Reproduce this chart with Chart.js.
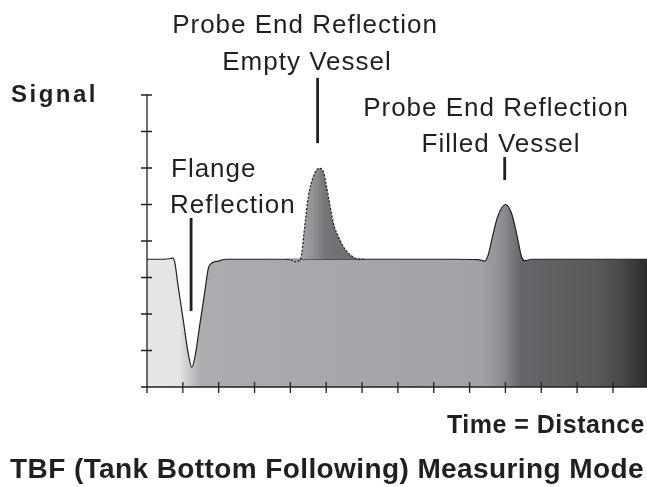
<!DOCTYPE html>
<html><head><meta charset="utf-8">
<script src="https://cdn.jsdelivr.net/npm/chart.js@4/dist/chart.umd.min.js"></script>
<style>html,body{margin:0;padding:0;background:#fff;overflow:hidden;}#wrap{width:647px;height:487px;position:relative;}</style>
</head><body><div id="wrap"><canvas id="c" width="647" height="487" style="width:647px;height:487px;"></canvas></div>
<script>
// ---- data ----
const signalX = [0, 0.5, 0.66, 0.72, 0.78, 0.87, 1.01, 1.15, 1.25, 1.34, 1.48, 1.62, 1.71, 1.80, 1.99, 2.2, 4.0, 6.0, 8.5, 9.24, 9.43, 9.52, 9.66, 9.80, 10.0, 10.17, 10.31, 10.45, 10.54, 10.73, 12.0, 13.95];
const signalY = [3.5, 3.5, 3.52, 3.53, 3.39, 2.75, 1.84, 0.92, 0.54, 0.83, 1.75, 2.66, 3.25, 3.39, 3.45, 3.5, 3.5, 3.5, 3.5, 3.49, 3.45, 3.62, 4.21, 4.71, 5.0, 4.76, 4.21, 3.57, 3.46, 3.5, 3.5, 3.5];
const emptyX = [3.9, 4.05, 4.13, 4.22, 4.29, 4.41, 4.50, 4.64, 4.80, 4.92, 5.01, 5.11, 5.20, 5.34, 5.48, 5.67, 5.85, 6.05];
const emptyY = [3.5, 3.47, 3.43, 3.45, 3.52, 4.48, 5.21, 5.76, 5.99, 5.90, 5.49, 4.94, 4.48, 4.12, 3.84, 3.62, 3.52, 3.5];
const xTicks = [0,1,2,3,4,5,6,7,8,9,10,11,12,13];
const yTicks = [0,1,2,3,4,5,6,7,8];
const baseline = 3.5;
const labels = {
  emptyTop: 'Probe End Reflection', emptyBottom: 'Empty Vessel',
  flangeTop: 'Flange', flangeBottom: 'Reflection',
  filledTop: 'Probe End Reflection', filledBottom: 'Filled Vessel',
  yTitle: 'Signal', xTitle: 'Time = Distance',
  title: 'TBF (Tank Bottom Following) Measuring Mode'
};

// ---- styles ----
const INK = '#231f20';
const signalStops = [[0,'#e6e7e8'],[0.9,'#e3e4e5'],[1.2,'#c6c7ca'],[1.5,'#aaacaf'],[5,'#a6a8ab'],[9.3,'#a0a2a5'],[9.7,'#95979a'],[10.0,'#88898c'],[10.2,'#76777a'],[10.45,'#656669'],[12.6,'#58595b'],[13.3,'#464648'],[13.95,'#2c2c2d']];
const emptyStops = [[4.3,'#a3a4a7'],[4.7,'#8d8e91'],[4.95,'#747578'],[5.9,'#6b6c6f']];

function hGrad(c, stops, fallback) {
  const chart = c.chart, xs = chart.scales && chart.scales.x;
  if (!chart.chartArea || !xs) return fallback;
  const x0 = xs.getPixelForValue(xs.min), x1 = xs.getPixelForValue(xs.max);
  const g = chart.ctx.createLinearGradient(x0, 0, x1, 0);
  stops.forEach(([v, col]) => g.addColorStop(Math.min(1, Math.max(0, (v - xs.min) / (xs.max - xs.min))), col));
  return g;
}

const axesPlugin = {
  id: 'axesPlugin',
  afterDatasetsDraw(chart) {
    const {ctx, scales:{x, y}} = chart;
    const x0 = x.getPixelForValue(0), y0 = y.getPixelForValue(0);
    ctx.save();
    ctx.strokeStyle = INK; ctx.lineWidth = 1.3; ctx.lineCap = 'butt';
    ctx.beginPath();
    ctx.moveTo(x0, y.getPixelForValue(yTicks[yTicks.length-1])); ctx.lineTo(x0, y0 + 6);
    ctx.moveTo(x0 - 6, y0); ctx.lineTo(chart.width, y0);
    yTicks.forEach(v => { const p = y.getPixelForValue(v); ctx.moveTo(x0 - 6, p); ctx.lineTo(x0 + 5, p); });
    xTicks.forEach(v => { const p = x.getPixelForValue(v); ctx.moveTo(p, y0 - 5); ctx.lineTo(p, y0 + 6); });
    ctx.stroke();
    ctx.restore();
  }
};

const leaders = [
  {x: 1.23, from: 4.63, to: 2.08},
  {x: 4.76, from: 8.47, to: 6.68},
  {x: 9.98, from: 6.3, to: 5.67}
];
const FONT = '"Liberation Sans", Arial, sans-serif';
const texts = [
  {t: labels.emptyTop, x: 305, y: 33, a: 'center', f: '26px ' + FONT, s: 1},
  {t: labels.emptyBottom, x: 307, y: 70, a: 'center', f: '26px ' + FONT, s: 1},
  {t: labels.flangeTop, x: 171, y: 177, a: 'left', f: '26px ' + FONT, s: 1},
  {t: labels.flangeBottom, x: 170, y: 213, a: 'left', f: '26px ' + FONT, s: 1},
  {t: labels.filledTop, x: 496, y: 116, a: 'center', f: '26px ' + FONT, s: 1},
  {t: labels.filledBottom, x: 501, y: 152, a: 'center', f: '26px ' + FONT, s: 1},
  {t: labels.yTitle, x: 11, y: 102, a: 'left', f: 'bold 24px ' + FONT, s: 2.5},
  {t: labels.xTitle, x: 645, y: 433, a: 'right', f: 'bold 25px ' + FONT, s: 0.5},
  {t: labels.title, x: 327, y: 478, a: 'center', f: 'bold 28px ' + FONT, s: 0.4}
];
const annotPlugin = {
  id: 'annotPlugin',
  afterDraw(chart) {
    const {ctx, scales:{x, y}} = chart;
    ctx.save();
    ctx.strokeStyle = INK; ctx.lineWidth = 2.8;
    leaders.forEach(l => {
      const px = x.getPixelForValue(l.x);
      ctx.beginPath(); ctx.moveTo(px, y.getPixelForValue(l.from)); ctx.lineTo(px, y.getPixelForValue(l.to)); ctx.stroke();
    });
    ctx.fillStyle = INK; ctx.textBaseline = 'alphabetic';
    texts.forEach(o => {
      ctx.font = o.f; ctx.textAlign = o.a;
      if ('letterSpacing' in ctx) ctx.letterSpacing = o.s + 'px';
      ctx.fillText(o.t, o.x, o.y);
    });
    ctx.restore();
  }
};

new Chart(document.getElementById('c'), {
  type: 'line',
  data: {
    datasets: [
      {
        label: 'Empty vessel',
        data: emptyX.map((v, i) => ({x: v, y: emptyY[i]})),
        borderColor: INK, borderWidth: 1.2, borderDash: [2.2, 1.6],
        pointRadius: 0, cubicInterpolationMode: 'monotone',
        fill: {value: baseline},
        backgroundColor: c => hGrad(c, emptyStops, '#888'),
        order: 0
      },
      {
        label: 'Signal',
        data: signalX.map((v, i) => ({x: v, y: signalY[i]})),
        borderColor: INK, borderWidth: 1.2,
        pointRadius: 0, cubicInterpolationMode: 'monotone',
        fill: 'origin',
        backgroundColor: c => hGrad(c, signalStops, '#a5a7aa'),
        order: 1
      }
    ]
  },
  options: {
    responsive: false, animation: false, maintainAspectRatio: false,
    devicePixelRatio: 1,
    layout: {padding: {left: 147, right: 0, top: 95, bottom: 100}},
    plugins: {legend: {display: false}, tooltip: {enabled: false}},
    scales: {
      x: {type: 'linear', min: 0, max: 13.95, display: false},
      y: {type: 'linear', min: 0, max: 8, display: false}
    }
  },
  plugins: [axesPlugin, annotPlugin]
});
</script>
</body></html>
